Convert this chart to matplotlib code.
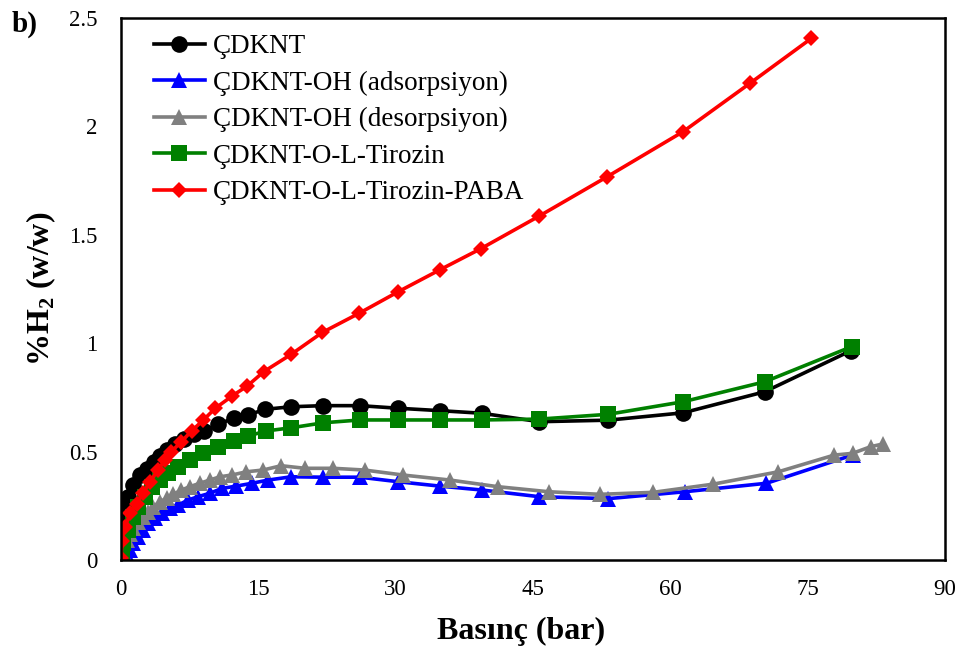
import matplotlib
matplotlib.use('Agg')
import matplotlib.pyplot as plt

plt.rcParams['font.family'] = ['Liberation Serif', 'DejaVu Serif']
plt.rcParams['mathtext.fontset'] = 'custom'
plt.rcParams['mathtext.rm'] = 'Liberation Serif'
plt.rcParams['mathtext.bf'] = 'Liberation Serif:bold'

# pressure (bar) and H2 uptake (% w/w)
cdknt_x = [0, 0.1, 0.45, 0.8, 1.35, 2.1, 2.8, 3.6, 4.3, 5.0, 5.9, 6.9, 8.0, 9.1, 10.6, 12.3,
           13.9, 15.7, 18.6, 22.1, 26.1, 30.3, 34.8, 39.4, 45.7, 53.2, 61.4, 70.3, 79.7]
cdknt_y = [0, 0.18, 0.24, 0.29, 0.345, 0.39, 0.42, 0.45, 0.48, 0.507, 0.535, 0.56, 0.58, 0.595,
           0.626, 0.654, 0.669, 0.695, 0.707, 0.712, 0.712, 0.70, 0.689, 0.677, 0.638, 0.645,
           0.679, 0.776, 0.965]

oh_ads_x = [0.5, 0.8, 1.0, 1.35, 1.9, 2.45, 3.0, 3.7, 4.45, 5.35, 6.25, 7.35, 8.4, 9.7, 11.0,
            12.6, 14.3, 16.1, 18.6, 22.1, 26.1, 30.3, 34.8, 39.4, 45.7, 53.2, 61.6, 70.5, 79.9]
oh_ads_y = [0.0, 0.015, 0.046, 0.077, 0.108, 0.138, 0.169, 0.192, 0.215, 0.238, 0.254, 0.277,
            0.292, 0.308, 0.33, 0.341, 0.354, 0.369, 0.384, 0.382, 0.382, 0.361, 0.341, 0.323,
            0.292, 0.283, 0.315, 0.354, 0.484]

oh_des_x = [0.3, 0.6, 1.0, 1.35, 1.9, 2.45, 3.0, 3.5, 4.25, 5.0, 5.7, 6.6, 7.5, 8.6, 9.7, 10.8,
            12.1, 13.7, 15.5, 17.5, 20.1, 23.2, 26.6, 30.8, 35.9, 41.2, 46.7, 52.3, 58.1, 64.7,
            71.8, 77.9, 79.9, 81.9, 83.2]
oh_des_y = [0.03, 0.092, 0.12, 0.146, 0.177, 0.2, 0.223, 0.246, 0.269, 0.285, 0.303, 0.323,
            0.338, 0.354, 0.369, 0.384, 0.392, 0.407, 0.415, 0.435, 0.423, 0.423, 0.415, 0.392,
            0.369, 0.338, 0.315, 0.303, 0.312, 0.35, 0.407, 0.484, 0.492, 0.523, 0.535]

tir_x = [0.07, 0.25, 0.8, 1.35, 1.9, 2.6, 3.35, 4.25, 5.15, 6.25, 7.5, 9.0, 10.6, 12.3, 13.9,
         15.8, 18.6, 22.1, 26.1, 30.3, 34.8, 39.4, 45.7, 53.2, 61.4, 70.3, 79.8]
tir_y = [0.008, 0.077, 0.138, 0.2, 0.246, 0.292, 0.338, 0.369, 0.40, 0.43, 0.461, 0.492, 0.523,
         0.549, 0.572, 0.595, 0.61, 0.633, 0.646, 0.646, 0.646, 0.646, 0.650, 0.672, 0.730,
         0.822, 0.984]

paba_x = [0, 0.1, 0.4, 1.0, 1.7, 2.4, 3.2, 4.0, 4.8, 5.5, 6.6, 7.7, 9.0, 10.3, 12.15, 13.8,
          15.6, 18.6, 22.0, 26.0, 30.3, 34.8, 39.3, 45.7, 53.1, 61.4, 68.7, 75.4]
paba_y = [0.01, 0.09, 0.15, 0.215, 0.26, 0.31, 0.36, 0.415, 0.46, 0.50, 0.546, 0.595, 0.646,
          0.70, 0.757, 0.803, 0.869, 0.949, 1.05, 1.138, 1.238, 1.338, 1.436, 1.587, 1.768,
          1.976, 2.199, 2.406]

series = [
    (cdknt_x, cdknt_y, 'ÇDKNT', 'black', 'o', 12),
    (oh_ads_x, oh_ads_y, 'ÇDKNT-OH (adsorpsiyon)', 'blue', '^', 12),
    (oh_des_x, oh_des_y, 'ÇDKNT-OH (desorpsiyon)', 'gray', '^', 12),
    (tir_x, tir_y, 'ÇDKNT-O-L-Tirozin', 'green', 's', 11),
    (paba_x, paba_y, 'ÇDKNT-O-L-Tirozin-PABA', 'red', 'D', 8.5),
]

fig = plt.figure(figsize=(9.62, 6.53), dpi=100)
ax = fig.add_axes([0.1258, 0.1424, 0.8565, 0.83])

for x, y, name, col, mk, ms in series:
    ax.plot(x, y, color=col, marker=mk, markersize=ms, linewidth=2.6,
            markeredgewidth=0, label=name)

ax.set_xlim(0, 90)
ax.set_ylim(0, 2.5)
ax.set_xticks([0, 15, 30, 45, 60, 75, 90])
ax.set_yticks([0, 0.5, 1, 1.5, 2, 2.5])
ax.set_yticklabels(['0', '0.5', '1', '1.5', '2', '2.5'])
ax.tick_params(length=0, labelsize=16.5)
ax.tick_params(axis='y', pad=17)
ax.tick_params(axis='x', pad=14)
for s in ax.spines.values():
    s.set_linewidth(1.8)
    s.set_color('black')

ax.set_xlabel('Basınç (bar)', fontsize=23, fontweight='bold', labelpad=10)
ax.xaxis.set_label_coords(0.485, -0.105)
ax.set_ylabel(r'%H$_\mathbf{2}$ (w/w)', fontsize=23, fontweight='bold', labelpad=8)

fig.text(0.012, 0.962, 'b)', fontsize=21, fontweight='bold', va='center')

ax.legend(loc='upper left', frameon=False, fontsize=19.5, handlelength=1.9,
          handletextpad=0.3, labelspacing=0.42, borderaxespad=0.2,
          bbox_to_anchor=(0.02, 1.0))

fig.savefig('out.png', dpi=100)
